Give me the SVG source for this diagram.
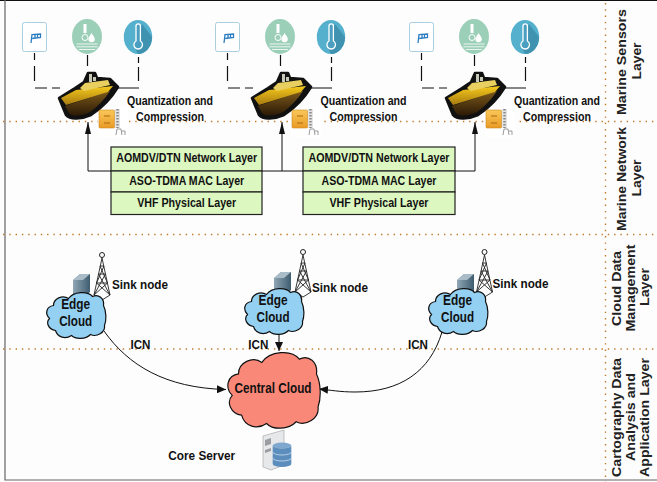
<svg xmlns="http://www.w3.org/2000/svg" width="657" height="482" viewBox="0 0 657 482">
<style>
text{font-family:"Liberation Sans",Arial,sans-serif;font-size:13px;font-weight:700;fill:#111;text-anchor:middle}
.e{font-size:14.500px}
.lay{font-size:13.500px;fill:#222}
.div{stroke:#c07a2a;stroke-width:1.4;stroke-dasharray:1.4 4.9;fill:none}
.dash{stroke:#111;stroke-width:1.2;fill:none}
.conn{stroke:#111;stroke-width:1;fill:none}
.row{fill:#dcf7c0;stroke:#222;stroke-width:1.2}
</style>
<defs>
<marker id="au" viewBox="0 0 12 6" refX="12" refY="3" markerWidth="12" markerHeight="6" markerUnits="userSpaceOnUse" orient="auto"><path d="M0 0L12 3L0 6Z" fill="#111"/></marker>
<marker id="ah" viewBox="0 0 9 8" refX="9" refY="4" markerWidth="9" markerHeight="8" markerUnits="userSpaceOnUse" orient="auto"><path d="M0 0L9 4L0 8Z" fill="#111"/></marker>
<linearGradient id="gold" x1="0" y1="0" x2="0" y2="1"><stop offset="0" stop-color="#f6cb1c"/><stop offset="1" stop-color="#a87a10"/></linearGradient>
<linearGradient id="brown" x1="0" y1="0" x2="0" y2="1"><stop offset="0" stop-color="#7d5a1c"/><stop offset="1" stop-color="#2c1a06"/></linearGradient>
<linearGradient id="fold" x1="0" y1="0" x2="0" y2="1"><stop offset="0" stop-color="#f9c85a"/><stop offset="1" stop-color="#ea9a25"/></linearGradient>
<linearGradient id="srv" x1="0" y1="0" x2="1" y2="0"><stop offset="0" stop-color="#8fa6b5"/><stop offset="1" stop-color="#3f5d70"/></linearGradient>
<g id="sensors">
<rect x="22.500" y="22.500" width="24" height="29" rx="2" fill="#fff" stroke="#a9cfe0" stroke-width="1"/>
<path d="M31 43L32 34.500L40.500 34V37.500L32.300 38.500" fill="#fff" stroke="#2b7cc0" stroke-width="1.300"/>
<path d="M35 34.500V38M37.500 34.300V37.700" stroke="#2b7cc0" stroke-width="1.300"/>
<ellipse cx="87" cy="36.500" rx="15" ry="17.500" fill="#9ccfb8"/>
<path d="M83.500 24h3v9h-3zM91.500 33c2 3 3.300 4.500 3.300 6a3.200 3.200 0 0 1-6.400 0c0-1.500 1.500-3 3.100-6z" fill="#fff"/>
<circle cx="85" cy="37.500" r="3" fill="none" stroke="#fff" stroke-width="1"/>
<path d="M76.500 44h21M76.500 46.800h21M79 49.500h16" stroke="#fff" stroke-width=".8" fill="none"/>
<ellipse cx="138" cy="37" rx="14.200" ry="17" fill="#54b0cc"/>
<path d="M142 24L152 37A14.200 17 0 0 1 138 54L134 46Z" fill="#3f93b0"/>
<path d="M136 26a2.200 2.200 0 0 1 4.400 0v15a4.300 4.300 0 1 1-4.400 0z" fill="#4a9fc0" stroke="#fff" stroke-width="1.300"/>
<path d="M34.500 53v7M34.500 66v15M87.500 55v11M138.500 57v6M138.500 67v14M35 88h12M52 88h8M117 88h22" class="dash"/>
<rect x="98" y="107" width="30" height="30" fill="#fff"/>
<path d="M59 98L75 88L84 82L88 73H95L97 78L110 79L118 87C112 97 103 107 91 115C82 119 70 120 66 115Z" fill="#111" stroke="#111" stroke-width="2.600" stroke-linejoin="round"/>
<path d="M65 106L110 91C104 100 97 107 90 112C82 116 73 117 69 113Z" fill="url(#brown)"/>
<path d="M61 98L76 90L113 86L108 92L66 105Z" fill="url(#gold)"/>
<path d="M80 88L85 83L108 80L110 85L84 91Z" fill="#e8cf60"/>
<path d="M89 82V74h3v8M93 81v-4h3v4" fill="#c8c8b8"/>
<rect x="99" y="110" width="15.500" height="18" rx="1" fill="url(#fold)" stroke="#c98a20" stroke-width=".6"/>
<path d="M104 116h6M104 123h6" stroke="#a86b10" stroke-width="1"/>
<path d="M115 109h5v19h-5" fill="#e4e4e4"/>
<path d="M117.500 109v19" stroke="#888" stroke-width="2.400" stroke-dasharray="1.500 1.500"/>
<path d="M116 135l1-6h4l1 6M122 131h3v4" fill="none" stroke="#999" stroke-width="1"/>
</g>
<path id="cl" d="M10 38C3 37 0 30 4 26C-1 21 1 14 8 13C8 6 17 2 23 6C28 -1 42 -2 47 4C53 1 59 6 58 13C61 19 61 28 59 33C60 40 51 45 45 42C40 47 30 47 26 43C20 47 12 45 10 38Z"/>
<g id="tower">
<path d="M0 40L8 3L16 40M2.500 28H13.500M4.500 19H11.500M6 11H10M0 40L11.500 19M16 40L4.500 19M2.500 28L10 11M13.500 28L6 11M0 40L8 45L16 40M2.500 28L16 40M13.500 28L0 40" fill="none" stroke="#222" stroke-width=".9"/>
<circle cx="8" cy="0" r="2.500" fill="none" stroke="#222" stroke-width="1"/>
</g>
<g id="box">
<path d="M0 6L7 0H17V18L10 24H0Z" fill="url(#srv)"/>
<path d="M0 6L7 0H17L10 6Z" fill="#a9bcc8"/>
</g>
</defs>
<rect width="657" height="482" fill="#fdfdfd"/>
<path d="M0 .5H657" stroke="#111" stroke-width="1"/>
<path d="M5 0V480H657" fill="none" stroke="#666" stroke-width="1.200"/>
<g id="layer-dividers">
<path class="div" d="M3 121.500H657M3 234.500H657M3 349H657M605.500 3V482"/>
</g>
<g id="connectors">
<path class="conn" d="M88 171H475"/>
<path class="conn" d="M88 171V122" marker-end="url(#au)"/>
<path class="conn" d="M282 171V122" marker-end="url(#au)"/>
<path class="conn" d="M475 171V122" marker-end="url(#au)"/>
<path class="conn" d="M104 331C128 365 165 388 226 389.500" marker-end="url(#ah)"/>
<path class="conn" d="M279 334V351" marker-end="url(#ah)"/>
<path class="conn" d="M442 332C430 372 400 392 355 392C340 392 330 390 319 389" marker-end="url(#ah)"/>
</g>
<g id="sensor-group-1"><use href="#sensors"/></g>
<g id="sensor-group-2"><use href="#sensors" x="193"/></g>
<g id="sensor-group-3"><use href="#sensors" x="387"/></g>
<g id="labels-qc">
<text x="170" y="105" textLength="86" lengthAdjust="spacingAndGlyphs">Quantization and</text><text x="170" y="121" textLength="68" lengthAdjust="spacingAndGlyphs">Compression</text>
<text x="363.500" y="105" textLength="86" lengthAdjust="spacingAndGlyphs">Quantization and</text><text x="363.500" y="121" textLength="68" lengthAdjust="spacingAndGlyphs">Compression</text>
<text x="557" y="105" textLength="86" lengthAdjust="spacingAndGlyphs">Quantization and</text><text x="557" y="121" textLength="68" lengthAdjust="spacingAndGlyphs">Compression</text>
</g>
<g id="stack-1">
<rect class="row" x="111" y="147" width="151" height="24"/><rect class="row" x="111" y="171" width="151" height="21"/><rect class="row" x="111" y="192" width="151" height="22.500"/>
<text x="186.700" y="162" textLength="141" lengthAdjust="spacingAndGlyphs">AOMDV/DTN Network Layer</text><text x="186.700" y="185" textLength="115" lengthAdjust="spacingAndGlyphs">ASO-TDMA MAC Layer</text><text x="186.700" y="206.500" textLength="99" lengthAdjust="spacingAndGlyphs">VHF Physical Layer</text>
</g>
<g id="stack-2">
<rect class="row" x="303" y="147" width="152" height="24"/><rect class="row" x="303" y="171" width="152" height="21"/><rect class="row" x="303" y="192" width="152" height="22.500"/>
<text x="379" y="162" textLength="141" lengthAdjust="spacingAndGlyphs">AOMDV/DTN Network Layer</text><text x="379" y="185" textLength="115" lengthAdjust="spacingAndGlyphs">ASO-TDMA MAC Layer</text><text x="379" y="206.500" textLength="99" lengthAdjust="spacingAndGlyphs">VHF Physical Layer</text>
</g>
<g id="edge-cloud-1">
<use href="#tower" x="94" y="255"/><use href="#box" x="73" y="274"/>
<use href="#cl" x="45.500" y="292.500" fill="#93d0f2" stroke="#111" stroke-width="1.200"/>
<text class="e" x="75.700" y="309" textLength="29" lengthAdjust="spacingAndGlyphs">Edge</text><text class="e" x="75.700" y="325.700" textLength="33" lengthAdjust="spacingAndGlyphs">Cloud</text>
<text x="140" y="289" textLength="56" lengthAdjust="spacingAndGlyphs">Sink node</text>
</g>
<g id="edge-cloud-2">
<use href="#tower" x="295" y="252"/><use href="#box" x="274" y="272"/>
<use href="#cl" x="243.500" y="288.500" fill="#93d0f2" stroke="#111" stroke-width="1.200"/>
<text class="e" x="273" y="305" textLength="29" lengthAdjust="spacingAndGlyphs">Edge</text><text class="e" x="273" y="322" textLength="33" lengthAdjust="spacingAndGlyphs">Cloud</text>
<text x="340" y="291.700" textLength="56" lengthAdjust="spacingAndGlyphs">Sink node</text>
</g>
<g id="edge-cloud-3">
<use href="#tower" x="476.500" y="252"/><use href="#box" x="457" y="274"/>
<use href="#cl" x="427.500" y="288.500" fill="#93d0f2" stroke="#111" stroke-width="1.200"/>
<text class="e" x="457.500" y="305" textLength="29" lengthAdjust="spacingAndGlyphs">Edge</text><text class="e" x="457.500" y="322" textLength="33" lengthAdjust="spacingAndGlyphs">Cloud</text>
<text x="520.500" y="288" textLength="56" lengthAdjust="spacingAndGlyphs">Sink node</text>
</g>
<g id="icn-labels">
<text x="140.500" y="349" textLength="20" lengthAdjust="spacingAndGlyphs">ICN</text><text x="258.300" y="349" textLength="20" lengthAdjust="spacingAndGlyphs">ICN</text><text x="418" y="349" textLength="20" lengthAdjust="spacingAndGlyphs">ICN</text>
</g>
<g id="central-cloud">
<use href="#cl" transform="translate(226 352.500) scale(1.560 1.650)" fill="#fa8878" stroke="#111" stroke-width=".75"/>
<text class="e" x="273" y="392.700" textLength="77" lengthAdjust="spacingAndGlyphs">Central Cloud</text>
</g>
<g id="core-server">
<path d="M263 436L284 430V465L271 470L263 467Z" fill="#e6e8ea" stroke="#aaa" stroke-width=".7"/>
<path d="M265 440L271 438V444L265 446ZM265 450L271 448V451L265 453Z" fill="#9a9ea2"/>
<ellipse cx="282" cy="445.500" rx="9.300" ry="3" fill="#7fa8cf"/>
<path d="M272.700 445.500V464A9.300 3 0 0 0 291.300 464V445.500A9.300 3 0 0 1 272.700 445.500Z" fill="#5b8dbd"/>
<path d="M272.700 452A9.300 3 0 0 0 291.300 452M272.700 458A9.300 3 0 0 0 291.300 458" fill="none" stroke="#cfe0ee" stroke-width=".8"/>
<text x="201.700" y="460" textLength="67" lengthAdjust="spacingAndGlyphs">Core Server</text>
</g>
<g id="layer-labels">
<text class="lay" transform="translate(626 62) rotate(-90)" textLength="106" lengthAdjust="spacingAndGlyphs">Marine Sensors</text>
<text class="lay" transform="translate(641 61) rotate(-90)" textLength="37" lengthAdjust="spacingAndGlyphs">Layer</text>
<text class="lay" transform="translate(626 179) rotate(-90)" textLength="104" lengthAdjust="spacingAndGlyphs">Marine Network</text>
<text class="lay" transform="translate(641 178) rotate(-90)" textLength="37" lengthAdjust="spacingAndGlyphs">Layer</text>
<text class="lay" transform="translate(621 288.500) rotate(-90)" textLength="75" lengthAdjust="spacingAndGlyphs">Cloud Data</text>
<text class="lay" transform="translate(635 288) rotate(-90)" textLength="87" lengthAdjust="spacingAndGlyphs">Management</text>
<text class="lay" transform="translate(649 287) rotate(-90)" textLength="38" lengthAdjust="spacingAndGlyphs">Layer</text>
<text class="lay" transform="translate(621 417.500) rotate(-90)" textLength="119" lengthAdjust="spacingAndGlyphs">Cartography Data</text>
<text class="lay" transform="translate(635 417) rotate(-90)" textLength="88" lengthAdjust="spacingAndGlyphs">Analysis and</text>
<text class="lay" transform="translate(649 417.500) rotate(-90)" textLength="119" lengthAdjust="spacingAndGlyphs">Application Layer</text>
</g>
</svg>
